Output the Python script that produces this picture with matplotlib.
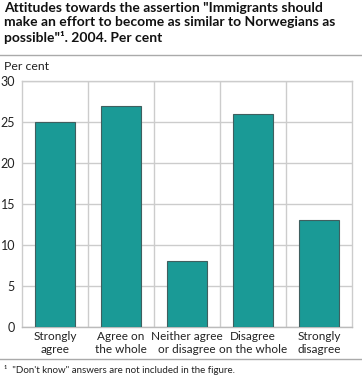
import matplotlib
matplotlib.use("Agg")
import matplotlib.pyplot as plt
from matplotlib.lines import Line2D

categories = ["Strongly\nagree", "Agree on\nthe whole", "Neither agree\nor disagree",
              "Disagree\non the whole", "Strongly\ndisagree"]
values = [25, 27, 8, 26, 13]
yticks = [0, 5, 10, 15, 20, 25, 30]

plt.rcParams['font.family'] = ['Lato', 'DejaVu Sans']

W, H = 362, 381
fig = plt.figure(figsize=(W / 100, H / 100), dpi=100)

ax = fig.add_axes([22 / W, (H - 327) / H, 330 / W, 246 / H])
x = range(len(values))
ax.bar(x, values, width=0.6, color="#1a9a96", edgecolor="#3f5f5f", linewidth=0.8, zorder=3)

ax.set_xlim(-0.5, len(values) - 0.5)
ax.set_ylim(0, 30)
ax.set_yticks(yticks)
ax.set_xticks([i + 0.5 for i in range(len(values) - 1)], minor=True)
ax.set_xticks(list(x))
ax.set_xticklabels(categories, fontsize=8.5, color="#222222", linespacing=1.2)
ax.tick_params(axis="y", labelsize=9, labelcolor="#222222", length=0, pad=5)
ax.tick_params(axis="x", which="both", length=0, pad=3)
ax.grid(axis="y", color="#cccccc", linewidth=1, zorder=0)
ax.grid(axis="x", which="minor", color="#cccccc", linewidth=1, zorder=0)
ax.grid(axis="x", which="major", visible=False)
for side in ["top", "right", "left"]:
    ax.spines[side].set_color("#cccccc")
    ax.spines[side].set_linewidth(1)
ax.spines["bottom"].set_color("#bbbbbb")
ax.spines["bottom"].set_linewidth(1)

fig.text(4 / W, 1 - 2 / H,
         "Attitudes towards the assertion \"Immigrants should\n"
         "make an effort to become as similar to Norwegians as\n"
         "possible\"\u00b9. 2004. Per cent",
         fontsize=10, fontweight="bold", va="top", ha="left", color="#111111",
         linespacing=1.25)

fig.add_artist(Line2D([0, 1], [1 - 55 / H, 1 - 55 / H], color="#aaaaaa", linewidth=1))
fig.text(4 / W, 1 - 66 / H, "Per cent", fontsize=8.8, va="center", ha="left", color="#222222")

fig.add_artist(Line2D([0, 1], [1 - 359 / H, 1 - 359 / H], color="#aaaaaa", linewidth=1))
fig.text(4 / W, 1 - 370 / H, "\u00b9  \"Don't know\" answers are not included in the figure.",
         fontsize=7, va="center", ha="left", color="#222222")

fig.savefig("out.png", dpi=100)
